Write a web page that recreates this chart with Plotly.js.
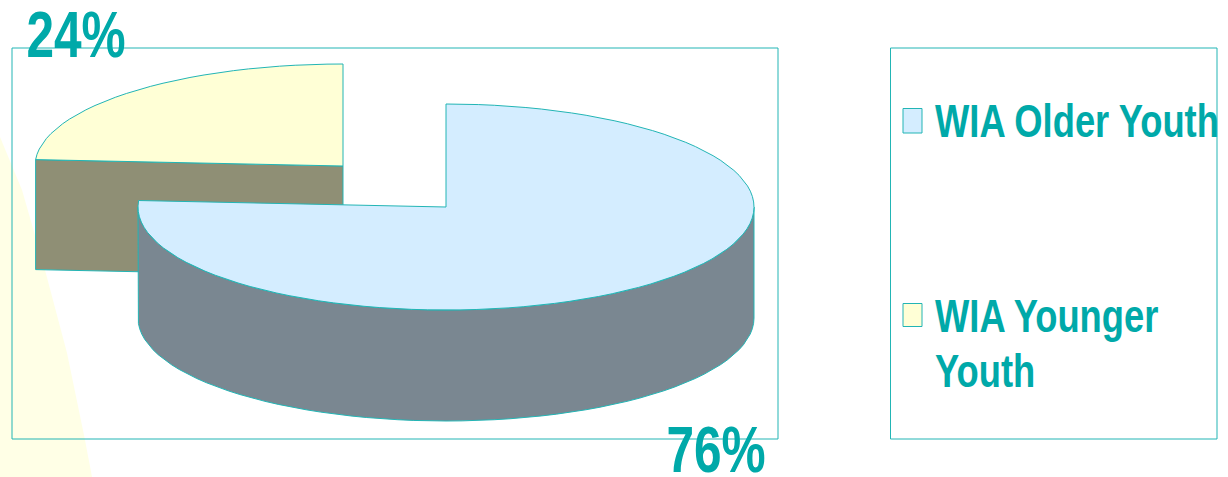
<!DOCTYPE html>
<html>
<head>
<meta charset="utf-8">
<script src="https://cdn.plot.ly/plotly-3.0.1.min.js"></script>
<style>html,body{margin:0;padding:0;background:#fff;overflow:hidden}#chart{width:1228px;height:477px}</style>
</head>
<body>
<div id="chart"></div>
<script>
// Data
var categories = ["WIA Older Youth", "WIA Younger Youth"];
var legendLines = ["WIA Older Youth", "WIA Younger", "Youth"];
var shares = [76, 24];

// Styles
var TEAL = "#00a9a9", EDGE = "#22b5b5";
var topColors = ["#d4edff", "#ffffd6"];
var sideColors = ["#7a8791", "#8f8f75"];

// Projected pie geometry (each slice is pulled apart from the other)
var olderPie = {cx: 446, cy: 207, rx: 308, ry: 103, depth: 111};
var youngerPie = {cx: 343, cy: 166, rx: 308, ry: 102, depth: 110};

function rim(p, a0, a1, dy) {
  // angles are clockwise degrees from 12 o'clock
  var xs = [], ys = [], n = Math.max(2, Math.round(Math.abs(a1 - a0) / 3));
  for (var i = 0; i <= n; i++) {
    var a = (a0 + (a1 - a0) * i / n) * Math.PI / 180;
    xs.push(p.cx + p.rx * Math.sin(a));
    ys.push(p.cy - p.ry * Math.cos(a) + (dy || 0));
  }
  return {x: xs, y: ys};
}
function poly(name, x, y, fill) {
  return {type: "scatter", mode: "lines", name: name, x: x, y: y, fill: "toself",
          fillcolor: fill, line: {color: EDGE, width: 1}, hoverinfo: "name", showlegend: false};
}

var total = shares[0] + shares[1];
var splitAngle = 360 * shares[0] / total;   // older slice runs 0 -> splitAngle

var traces = [];

// Younger slice: radial cut wall, then top
var yEdge = rim(youngerPie, splitAngle, splitAngle, 0);
var yx = yEdge.x[0], yy = yEdge.y[0], d = youngerPie.depth;
traces.push(poly(categories[1] + " side",
  [yx, youngerPie.cx, youngerPie.cx, yx, yx],
  [yy, youngerPie.cy, youngerPie.cy + d, yy + d, yy], sideColors[1]));
var yTop = rim(youngerPie, splitAngle, 360, 0);
traces.push(poly(categories[1],
  yTop.x.concat([youngerPie.cx, yTop.x[0]]),
  yTop.y.concat([youngerPie.cy, yTop.y[0]]), topColors[1]));

// Older slice: outer wall (front half only), then top
var oUp = rim(olderPie, 90, 270, 0);
var oDown = rim(olderPie, 270, 90, olderPie.depth);
traces.push(poly(categories[0] + " side",
  oUp.x.concat(oDown.x, [oUp.x[0]]),
  oUp.y.concat(oDown.y, [oUp.y[0]]), sideColors[0]));
var oTop = rim(olderPie, 0, splitAngle, 0);
traces.push(poly(categories[0],
  oTop.x.concat([olderPie.cx, oTop.x[0]]),
  oTop.y.concat([olderPie.cy, oTop.y[0]]), topColors[0]));

var FONT = "'Liberation Sans',Arial,sans-serif";
function label(text, x, y, size, anchor) {
  return {text: "<b>" + text + "</b>", x: x, y: y, xref: "x", yref: "y", showarrow: false,
          xanchor: anchor, yanchor: "middle", align: "left",
          font: {family: FONT, size: size, color: TEAL}};
}
function box(x0, y0, x1, y1, fill, color, w) {
  return {type: "rect", xref: "x", yref: "y", x0: x0, y0: y0, x1: x1, y1: y1,
          fillcolor: fill, line: {color: color, width: w}, layer: "below"};
}

var layout = {
  width: 1228, height: 477,
  margin: {l: 0, r: 0, t: 0, b: 0, pad: 0},
  paper_bgcolor: "#fff", plot_bgcolor: "#fff",
  showlegend: false, hovermode: "closest",
  xaxis: {range: [0, 1228], visible: false, fixedrange: true},
  yaxis: {range: [477, 0], visible: false, fixedrange: true},
  shapes: [
    {type: "path", xref: "x", yref: "y", layer: "below",
     path: "M0,137 L22,190 L45,270 L67,353 L85,440 L92,477 L0,477 Z",
     fillcolor: "#ffffe6", line: {width: 0}},
    box(12, 48, 778, 439, "rgba(0,0,0,0)", EDGE, 1),
    box(890.5, 48, 1217, 439, "rgba(0,0,0,0)", EDGE, 1),
    box(903, 108.5, 922, 133, topColors[0], EDGE, 1),
    box(903, 303.5, 922, 326.5, topColors[1], EDGE, 1)
  ],
  annotations: [
    label(shares[1] + "%", 76, 35, 64, "center"),
    label(shares[0] + "%", 716, 450, 64, "center"),
    label(legendLines[0], 933, 121, 46, "left"),
    label(legendLines[1], 933, 316, 46, "left"),
    label(legendLines[2], 933, 371, 46, "left")
  ]
};

// The reference type is a condensed bold face: condense the real text horizontally.
var CONDENSE = [0.775, 0.775, 0.79, 0.79, 0.79];
Plotly.newPlot("chart", traces, layout, {displayModeBar: false}).then(function () {
  var nodes = document.querySelectorAll("#chart .annotation-text");
  nodes.forEach(function (t, i) {
    var b = t.getBBox();
    var pivot = i < 2 ? b.x + b.width / 2 : b.x;
    t.setAttribute("transform",
      "translate(" + pivot + ",0) scale(" + CONDENSE[i] + ",1) translate(" + (-pivot) + ",0)");
  });
});
</script>
</body>
</html>
